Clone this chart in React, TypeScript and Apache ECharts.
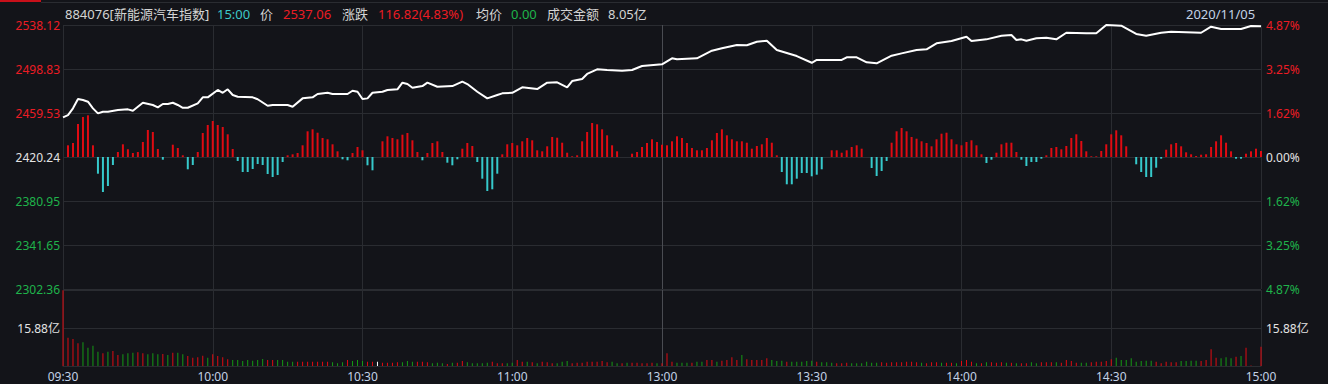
import React, { useEffect, useRef } from "react";
import * as echarts from "echarts";

// ---- tick labels ----
const timeLabels = ["09:30", "10:00", "10:30", "11:00", "13:00", "13:30", "14:00", "14:30", "15:00"];
const priceTickLabels = ["2302.36", "2341.65", "2380.95", "2420.24", "2459.53", "2498.83", "2538.12"];
const pctTickLabels = ["4.87%", "3.25%", "1.62%", "0.00%", "1.62%", "3.25%", "4.87%"];
const volTickLabels = ["", "15.88亿", ""];

const priceMin = 2302.36;
const priceMax = 2538.12;
const volMax = 31.76;

// ---- price line (minute index from 09:30, price) ----
const priceMinutes = [0, 1, 2, 3, 4, 5, 6, 7, 8, 9, 11, 13, 14, 16, 18, 19, 20, 21, 22, 23, 24, 25, 27, 28, 29, 31, 32, 33, 34, 35, 38, 39, 41, 42, 45, 46, 48, 50, 51, 53, 54, 57, 58, 59, 60, 61, 62, 64, 65, 67, 68, 69, 70, 72, 73, 75, 78, 80, 81, 83, 85, 87, 88, 90, 92, 95, 97, 99, 101, 102, 104, 105, 107, 109, 112, 114, 116, 120, 122, 123, 127, 130, 132, 135, 137, 139, 141, 143, 147, 150, 151, 156, 157, 159, 161, 163, 166, 168, 171, 173, 175, 178, 181, 182, 185, 188, 190, 191, 192, 193, 195, 197, 199, 201, 205, 207, 209, 212, 215, 217, 220, 222, 228, 230, 232, 236, 238, 240];
const priceValues = [2455.7, 2457.7, 2463.7, 2472.0, 2471.1, 2469.6, 2463.7, 2459.2, 2460.7, 2460.7, 2462.2, 2462.8, 2461.6, 2468.7, 2466.7, 2464.6, 2467.6, 2467.6, 2468.7, 2466.7, 2464.2, 2464.2, 2468.2, 2473.5, 2473.5, 2480.1, 2477.6, 2480.7, 2475.6, 2474.1, 2473.5, 2471.8, 2466.0, 2466.7, 2466.7, 2465.1, 2472.6, 2473.5, 2476.5, 2477.6, 2476.5, 2476.5, 2479.4, 2478.5, 2472.0, 2472.6, 2477.6, 2478.5, 2480.1, 2480.7, 2486.6, 2485.4, 2482.1, 2483.6, 2486.6, 2483.0, 2483.6, 2487.5, 2485.4, 2478.5, 2472.6, 2475.6, 2477.1, 2477.6, 2482.5, 2480.9, 2486.6, 2486.9, 2482.5, 2488.1, 2489.9, 2494.4, 2498.5, 2497.9, 2497.3, 2497.9, 2501.5, 2503.0, 2508.4, 2507.5, 2508.4, 2515.2, 2517.3, 2520.3, 2520.0, 2523.2, 2524.1, 2515.8, 2510.4, 2504.4, 2506.9, 2506.9, 2509.3, 2509.3, 2504.8, 2503.9, 2510.7, 2512.8, 2515.8, 2516.4, 2521.8, 2523.8, 2527.7, 2523.8, 2525.3, 2528.6, 2529.2, 2524.7, 2525.3, 2524.1, 2526.2, 2526.8, 2525.3, 2531.2, 2530.7, 2530.7, 2538.1, 2537.5, 2530.1, 2528.6, 2531.2, 2532.1, 2531.2, 2536.6, 2534.5, 2534.5, 2537.2, 2537.06];

// ---- strength bars, minutes 1..240 ----
const strengthValues = [
  11.7, 14, 33, 40, 41.7, 11.7, -16.7, -35, -29, -8,
  5, 12.7, 7.7, 4, 5, 15, 27, 25, 8, -2.7,
  0, 12.3, 9, 1.7, -12.3, -8, 5, 24, 32, 36,
  32, 30, 22.7, 8, -4, -15, -15, -12, -7, -8,
  -17, -20, -18, -5, 1.7, 2.7, 4,
  11.7, 25.7, 27.7, 24.3, 19, 17.7, 12.7, 5.7, -2.3, -3.3,
  4, 10, 6.7, -8.3, -13.3, 0, 15.7, 20.7, 19, 17.7,
  22.3, 24, 16.7, 5, -3.3, 4, 14, 15.7, 5, -5.7,
  -8.3, -2.3, 8.3, 14, 11, -5, -21.7, -34, -32.3, -16.7,
  2.7, 12.7, 14, 11.7, 15.7, 19, 16.7, 6.7, 5.7, 10.7,
  20, 19.3, 14.3, 4.3, 0.7, 1.7, 15.7, 25, 34, 32.7,
  27.7, 21.7, 11.7, 5.7, 0, 0, 3.3, 5, 10, 14,
  17.7, 15, 12.3, 11.7, 15.7, 20.7, 19, 14, 9, 6.7,
  6.7, 9, 16.7, 24, 27.7, 21.7, 17.7, 15.7, 15.7, 14.3,
  8.3, 11, 12.7, 19, 14.3, 1.7, -15, -27.3, -27.3, -21.7,
  -16, -16, -19.3, -17.7, -12.3, 0, 6.7, 6.7, 4.3, 6.7,
  10, 11.7, 8.3, 0, -11, -19, -14, -4, 14.3, 25.7,
  29, 25.7, 20, 18.3, 15.7, 14, 10.7, 17.7, 23.3, 24.3,
  17.7,
  12.7, 11.7, 15, 16.7, 11.7, 2.7, -6, -2.7, 4.3, 12.7,
  14.3, 14.3, 5, -2.7, -9, -5, -5, -1.7, 1.7, 9,
  10, 7.7, 11, 19, 22.7, 16, 5.7, 0.7, 0.7, 6,
  12.7, 22.7, 26.7, 21.7, 10.7, 0, -7.3, -15, -20, -20,
  -10.7, -1.7, 7.3, 12.7, 14, 10.7, 4.7, 2.7, 1, 2.3,
  2.7, 10, 15.7, 21.7, 14.3, 5.7, -1.7, -1.7, 3.3, 5.7,
  8.3, 6,
];

// ---- volume (亿), minutes 0..240 ----
const volumeValues = [
  31.7, 11.83, 11.29, 9.49, 9.91, 7.65, 8.49, 5.98, 5.31, 5.98,
  6.27, 4.6, 4.89, 5.31, 5.56, 5.73, 5.31, 4.89, 5.31, 4.89,
  5.02, 4.6, 5.56, 5.56, 4.89, 4.18, 3.47, 3.64, 4.31, 3.47,
  4.89, 4.18, 3.64, 2.8, 2.51, 2.51, 2.09, 2.51, 2.22, 2.51,
  2.93, 2.51, 2.51, 2.51, 2.51, 1.8, 1.8, 1.8, 1.8, 1.8,
  1.8, 1.8, 1.8, 1.8, 1.55, 1.13, 1.55, 2.51, 2.09, 2.51,
  2.09, 1.8, 1.8, 1.8, 1.38, 1.38, 1.38, 1.55, 1.55, 2.09,
  1.8, 1.8, 1.8, 1.55, 1.13, 1.38, 1.13, 0.84, 1.38, 1.38,
  2.09, 1.55, 1.13, 1.13, 1.13, 1.38, 1.8, 1.13, 1.13, 1.13,
  1.38, 2.51, 1.8, 1.8, 1.55, 1.13, 1.8, 1.55, 1.13, 1.13,
  1.8, 2.09, 1.13, 1.38, 1.38, 1.8, 1.8, 1.8, 2.09, 1.55,
  1.8, 1.13, 1.13, 1.38, 1.38, 1.38, 1.13, 1.13, 1.38, 1.13,
  1.13, 5.31, 1.8, 1.38, 1.38, 1.38, 1.38, 1.8, 1.8, 2.51,
  2.51, 1.8, 2.22, 2.51, 3.64, 2.51, 4.6, 2.8, 2.51, 2.51,
  2.51, 3.22, 2.51, 2.09, 2.22, 1.8, 1.8, 1.8, 1.8, 2.09,
  2.22, 1.8, 1.55, 1.55, 1.38, 1.13, 1.13, 1.38, 1.13, 1.13,
  1.13, 1.8, 1.38, 1.38, 1.55, 1.38, 1.55, 1.55, 1.55, 1.8,
  1.8, 1.55, 1.38, 1.13, 1.55, 1.55, 1.38, 1.38, 1.38, 1.13,
  2.09, 2.51, 1.8, 1.13, 1.13, 1.55, 1.55, 1.38, 1.55, 1.38,
  1.38, 1.13, 1.13, 1.13, 1.55, 1.13, 1.55, 1.55, 1.55, 1.55,
  1.38, 2.51, 2.09, 1.38, 1.38, 1.38, 1.55, 1.8, 1.8, 2.09,
  2.8, 3.47, 2.51, 2.51, 3.22, 1.8, 2.09, 2.22, 2.22, 1.8,
  1.13, 1.8, 1.55, 1.55, 2.09, 2.09, 2.22, 2.22, 2.09, 2.51,
  6.98, 3.47, 3.22, 3.64, 3.22, 3.89, 4.18, 7.65, 0.21, 0, 8.07,
];
// r = up (red), g = down (green), w = flat (white)
const volumeDirections =
  "rrrrggggrg" + "rrgggrrggg" + "rgrggrrrrg" + "rrrrgggggg" + "grrggggrrr" +
  "rrrrgggrgg" + "grrwrrrrgg" + "grrrgggrgr" + "rgggggrrrg" + "grrgrgrrrg" +
  "ggrrrrrrrr" + "ggrgrrrrrg" + "rrrgggrggr" + "rgrrrrgrrr" + "rrgggrgggg" +
  "grgggrrrgg" + "ggggrrrrrr" + "rrgrrrgrrg" + "rrrgrgrrrg" + "rgrrggrrrg" +
  "rrrrggrrrr" + "rggggggggr" + "rrrrggggrr" + "rrgggrgrrrr";

// ---- colours ----
const BG = "#131419";
const GRID = "#2a2c31";
const GRID_MID = "#4a4c52";
const RED = "#ec1c24";
const BAR_RED = "#e00b12";
const CYAN = "#36c9cb";
const GREEN = "#1fb34b";
const VOL_GREEN = "#159a15";
const WHITE = "#e3e3e3";
const TIME = "#c3d2e6";
const FONT = '"Noto Sans", "Noto Sans CJK SC", sans-serif';

const labelColor = (v: number, mid: number) => (v > mid ? RED : v < mid ? GREEN : WHITE);

const xSplitColors = [GRID, GRID, GRID, GRID, GRID_MID, GRID, GRID, GRID, GRID];

function buildOption(): any {
  const pricePairs = priceMinutes.map((m, i) => [m, priceValues[i]]);
  const strengthPairs = strengthValues.map((v, i) => [i + 1, v]);
  const volPairs = volumeValues.map((v, i) => [i, v]);

  const headerY = 14;
  const headerFont = `13px ${FONT}`;
  const header = [
    { t: "884076[新能源汽车指数]", x: 65, c: "#d4d4d4" },
    { t: "15:00", x: 217, c: "#3cc8c8" },
    { t: "价", x: 260, c: "#d4d4d4" },
    { t: "2537.06", x: 283, c: RED },
    { t: "涨跌", x: 342, c: "#d4d4d4" },
    { t: "116.82(4.83%)", x: 378, c: RED },
    { t: "均价", x: 476, c: "#d4d4d4" },
    { t: "0.00", x: 511, c: GREEN },
    { t: "成交金额", x: 547, c: "#d4d4d4" },
    { t: "8.05亿", x: 608, c: "#d4d4d4" },
    { t: "2020/11/05", x: 1186, c: TIME },
  ];

  const xBase = {
    type: "value",
    min: 0,
    max: 240,
    interval: 30,
    axisTick: { show: false },
    splitLine: { show: true, lineStyle: { color: xSplitColors, width: 1 } },
  };

  return {
    animation: false,
    backgroundColor: BG,
    textStyle: { fontFamily: FONT },
    grid: [
      { left: 63, width: 1198, top: 25, height: 264 },
      { left: 63, width: 1198, top: 290, height: 76 },
    ],
    xAxis: [
      { ...xBase, gridIndex: 0, axisLine: { show: false }, axisLabel: { show: false } },
      {
        ...xBase,
        gridIndex: 1,
        axisLine: { show: true, lineStyle: { color: GRID } },
        axisLabel: {
          show: true,
          color: TIME,
          fontSize: 12,
          fontFamily: FONT,
          margin: 4,
          formatter: (v: number) => timeLabels[Math.round(v / 30)] ?? "",
        },
      },
    ],
    yAxis: [
      { gridIndex: 0, type: "value", position: "left", min: priceMin, max: priceMax, show: false },
      {
        gridIndex: 0,
        type: "value",
        position: "left",
        min: 0,
        max: 6,
        interval: 1,
        axisLine: { show: false },
        axisTick: { show: false },
        splitLine: { show: true, lineStyle: { color: GRID } },
        axisLabel: {
          fontSize: 12,
          fontFamily: FONT,
          margin: 3,
          formatter: (v: number) => priceTickLabels[v] ?? "",
          color: (v: number) => labelColor(Number(v), 3),
        },
      },
      {
        gridIndex: 0,
        type: "value",
        position: "right",
        min: 0,
        max: 6,
        interval: 1,
        axisLine: { show: false },
        axisTick: { show: false },
        splitLine: { show: false },
        axisLabel: {
          fontSize: 12,
          fontFamily: FONT,
          margin: 5,
          formatter: (v: number) => pctTickLabels[v] ?? "",
          color: (v: number) => labelColor(Number(v), 3),
        },
      },
      { gridIndex: 0, type: "value", position: "right", min: -132, max: 132, show: false },
      { gridIndex: 1, type: "value", position: "left", min: 0, max: volMax, show: false },
      {
        gridIndex: 1,
        type: "value",
        position: "left",
        min: 0,
        max: 2,
        interval: 1,
        axisLine: { show: false },
        axisTick: { show: false },
        splitLine: { show: true, lineStyle: { color: GRID } },
        axisLabel: {
          fontSize: 12,
          fontFamily: FONT,
          margin: 3,
          color: WHITE,
          formatter: (v: number) => volTickLabels[v] ?? "",
        },
      },
      {
        gridIndex: 1,
        type: "value",
        position: "right",
        min: 0,
        max: 2,
        interval: 1,
        axisLine: { show: false },
        axisTick: { show: false },
        splitLine: { show: false },
        axisLabel: {
          fontSize: 12,
          fontFamily: FONT,
          margin: 5,
          color: WHITE,
          formatter: (v: number) => volTickLabels[v] ?? "",
        },
      },
    ],
    series: [
      {
        type: "bar",
        xAxisIndex: 0,
        yAxisIndex: 3,
        data: strengthPairs,
        barWidth: 2,
        silent: true,
        itemStyle: { color: (p: any) => (p.value[1] >= 0 ? BAR_RED : CYAN) },
        z: 3,
      },
      {
        type: "line",
        xAxisIndex: 0,
        yAxisIndex: 0,
        data: pricePairs,
        showSymbol: false,
        silent: true,
        lineStyle: { color: "#ffffff", width: 2 },
        z: 5,
      },
      {
        type: "bar",
        xAxisIndex: 1,
        yAxisIndex: 4,
        data: volPairs,
        barWidth: 1,
        silent: true,
        itemStyle: {
          color: (p: any) => {
            const d = volumeDirections[p.dataIndex];
            return d === "g" ? VOL_GREEN : d === "w" ? "#ffffff" : BAR_RED;
          },
        },
        z: 3,
      },
    ],
    graphic: [
      { type: "rect", shape: { x: 0, y: 0, width: 41, height: 2 }, style: { fill: "#c8101a" }, silent: true },
      { type: "line", shape: { x1: 41, y1: 2.5, x2: 1328, y2: 2.5 }, style: { stroke: GRID, lineWidth: 1 }, silent: true },
      ...header.map((h) => ({
        type: "text",
        x: h.x,
        y: headerY,
        silent: true,
        style: { text: h.t, fill: h.c, font: headerFont, verticalAlign: "middle", align: "left" },
      })),
    ],
  };
}

export default function App() {
  const ref = useRef<HTMLDivElement>(null);
  useEffect(() => {
    if (!ref.current) return;
    const chart = echarts.init(ref.current, null, { renderer: "svg" });
    chart.setOption(buildOption());
    return () => chart.dispose();
  }, []);
  return (
    <div
      ref={ref}
      style={{ position: "fixed", left: 0, top: 0, width: 1328, height: 384, background: BG }}
    />
  );
}
